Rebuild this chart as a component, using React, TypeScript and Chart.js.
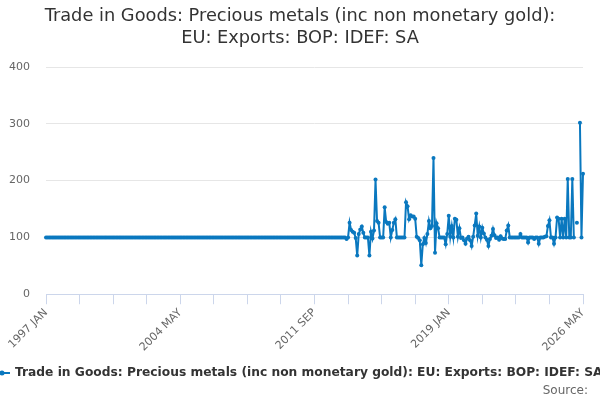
import React, { useEffect, useRef } from "react";
import { Chart, registerables } from "chart.js";

Chart.register(...registerables);

const titleLines = [
  "Trade in Goods: Precious metals (inc non monetary gold):",
  "EU: Exports: BOP: IDEF: SA",
];
const seriesName =
  "Trade in Goods: Precious metals (inc non monetary gold): EU: Exports: BOP: IDEF: SA";

const monthNames = ["JAN", "FEB", "MAR", "APR", "MAY", "JUN", "JUL", "AUG", "SEP", "OCT", "NOV", "DEC"];
const firstYear = 1997;
const tickLabels = ["1997 JAN", "2004 MAY", "2011 SEP", "2019 JAN", "2026 MAY"];
const minorTickEvery = 22; // months between axis tick marks
const yTicks = [0, 100, 200, 300, 400];

// 1997 JAN - 2012 DEC, flat
const values1997to2012 = [
  100, 100, 100, 100, 100, 100, 100, 100, 100, 100, 100, 100, // 1997
  100, 100, 100, 100, 100, 100, 100, 100, 100, 100, 100, 100, // 1998
  100, 100, 100, 100, 100, 100, 100, 100, 100, 100, 100, 100, // 1999
  100, 100, 100, 100, 100, 100, 100, 100, 100, 100, 100, 100, // 2000
  100, 100, 100, 100, 100, 100, 100, 100, 100, 100, 100, 100, // 2001
  100, 100, 100, 100, 100, 100, 100, 100, 100, 100, 100, 100, // 2002
  100, 100, 100, 100, 100, 100, 100, 100, 100, 100, 100, 100, // 2003
  100, 100, 100, 100, 100, 100, 100, 100, 100, 100, 100, 100, // 2004
  100, 100, 100, 100, 100, 100, 100, 100, 100, 100, 100, 100, // 2005
  100, 100, 100, 100, 100, 100, 100, 100, 100, 100, 100, 100, // 2006
  100, 100, 100, 100, 100, 100, 100, 100, 100, 100, 100, 100, // 2007
  100, 100, 100, 100, 100, 100, 100, 100, 100, 100, 100, 100, // 2008
  100, 100, 100, 100, 100, 100, 100, 100, 100, 100, 100, 100, // 2009
  100, 100, 100, 100, 100, 100, 100, 100, 100, 100, 100, 100, // 2010
  100, 100, 100, 100, 100, 100, 100, 100, 100, 100, 100, 100, // 2011
  100, 100, 100, 100, 100, 100, 100, 100, 100, 100, 100, 100, // 2012
];

// 2013 JAN - 2026 MAY
const values2013to2026: (number | null)[] = [
  100, 100, 100, 100, 100, 97, 100, 126, 113, 110, 108, 99, // 2013
  68, 106, 114, 119, 108, 100, 100, 100, 68, 110, 98, 112, // 2014
  202, 129, 126, 100, 100, 100, 153, 127, 124, 126, 100, 113, // 2015
  126, 132, 100, 100, 100, 100, 100, 100, 162, 155, 132, 139, // 2016
  137, 137, 133, 101, 99, 95, 51, 88, 99, 90, 106, 129, // 2017
  116, 120, 240, 73, 125, 116, 100, 100, 100, 100, 88, 106, // 2018
  138, 101, 120, 100, 133, 131, 101, 116, 99, 100, 95, 89, // 2019
  98, 101, 95, 85, 101, 121, 142, 103, 119, 100, 117, 107, // 2020
  100, 96, 85, 97, 103, 115, 104, 99, 100, 96, 102, 98, // 2021
  97, 97, 112, 121, 100, 100, 100, 100, 100, 100, 100, 106, // 2022
  100, 100, 100, 100, 91, 100, 100, 100, 97, 100, 100, 89, // 2023
  100, 100, 100, 101, 102, 120, 130, 100, 100, 89, 100, 135, // 2024
  133, 100, 133, 100, 133, 100, 203, 100, 100, 203, 100, null, // 2025
  126, null, 302, 100, 212, // 2026
];

const values: (number | null)[] = [...values1997to2012, ...values2013to2026];
const categories = values.map(
  (_, i) => `${firstYear + Math.floor(i / 12)} ${monthNames[i % 12]}`
);

const lineColor = "#0a78bf";
const fontFamily = "'DejaVu Sans', sans-serif";

// title, legend and source line are drawn by hand so they centre on the page
const textPlugin = {
  id: "pageText",
  afterDraw(chart: Chart) {
    const { ctx } = chart;
    ctx.save();

    ctx.font = `17.8px ${fontFamily}`;
    ctx.fillStyle = "#333333";
    ctx.textAlign = "center";
    ctx.textBaseline = "middle";
    ctx.fillText(titleLines[0], 300, 16);
    ctx.fillText(titleLines[1], 300, 38);

    const y = 373;
    ctx.strokeStyle = lineColor;
    ctx.lineWidth = 2;
    ctx.beginPath();
    ctx.moveTo(-6, y);
    ctx.lineTo(10, y);
    ctx.stroke();
    ctx.fillStyle = lineColor;
    ctx.beginPath();
    ctx.arc(2, y, 2.5, 0, Math.PI * 2);
    ctx.fill();

    ctx.font = `bold 12.25px ${fontFamily}`;
    ctx.fillStyle = "#333333";
    ctx.textAlign = "left";
    ctx.fillText(seriesName, 15, y);

    ctx.font = `12px ${fontFamily}`;
    ctx.fillStyle = "#666666";
    ctx.textAlign = "right";
    ctx.fillText("Source:", 588, 391);
    ctx.restore();
  },
};

export default function App() {
  const canvasRef = useRef<HTMLCanvasElement>(null);

  useEffect(() => {
    document.body.style.margin = "0";
    if (!canvasRef.current) return;
    Chart.defaults.font.family = fontFamily;

    const chart = new Chart(canvasRef.current, {
      type: "line",
      data: {
        labels: categories,
        datasets: [
          {
            label: seriesName,
            data: values,
            borderColor: lineColor,
            backgroundColor: lineColor,
            borderWidth: 2,
            pointRadius: 2,
            pointBorderWidth: 0,
            pointBackgroundColor: lineColor,
            tension: 0,
            spanGaps: false,
          },
        ],
      },
      options: {
        responsive: true,
        maintainAspectRatio: false,
        animation: false,
        layout: { padding: { left: 0, right: 17, top: 67, bottom: 44 } },
        plugins: {
          legend: { display: false },
          tooltip: { enabled: false },
          title: { display: false },
        },
        scales: {
          x: {
            type: "category",
            grid: {
              display: true,
              drawOnChartArea: false,
              drawTicks: true,
              tickLength: 10,
              color: (c: any) => (c.index % minorTickEvery === 0 ? "#ccd6eb" : "rgba(0,0,0,0)"),
            },
            border: { color: "#ccd6eb", width: 1 },
            ticks: {
              autoSkip: false,
              minRotation: 45,
              maxRotation: 45,
              color: "#666666",
              font: { size: 11 },
              padding: 2,
              callback: (_v: any, index: number) =>
                tickLabels.includes(categories[index]) ? categories[index] : "",
            },
          },
          y: {
            min: yTicks[0],
            max: yTicks[yTicks.length - 1],
            afterBuildTicks: (scale: any) => {
              scale.ticks = yTicks.map((v) => ({ value: v }));
            },
            afterFit: (scale: any) => {
              scale.width = 46;
            },
            ticks: { color: "#666666", font: { size: 11 }, padding: 16 },
            grid: { color: "#e6e6e6", drawTicks: false },
            border: { display: false },
          },
        },
      },
      plugins: [textPlugin],
    });

    return () => chart.destroy();
  }, []);

  return (
    <div style={{ position: "relative", width: 600, height: 400 }}>
      <canvas ref={canvasRef} />
    </div>
  );
}
